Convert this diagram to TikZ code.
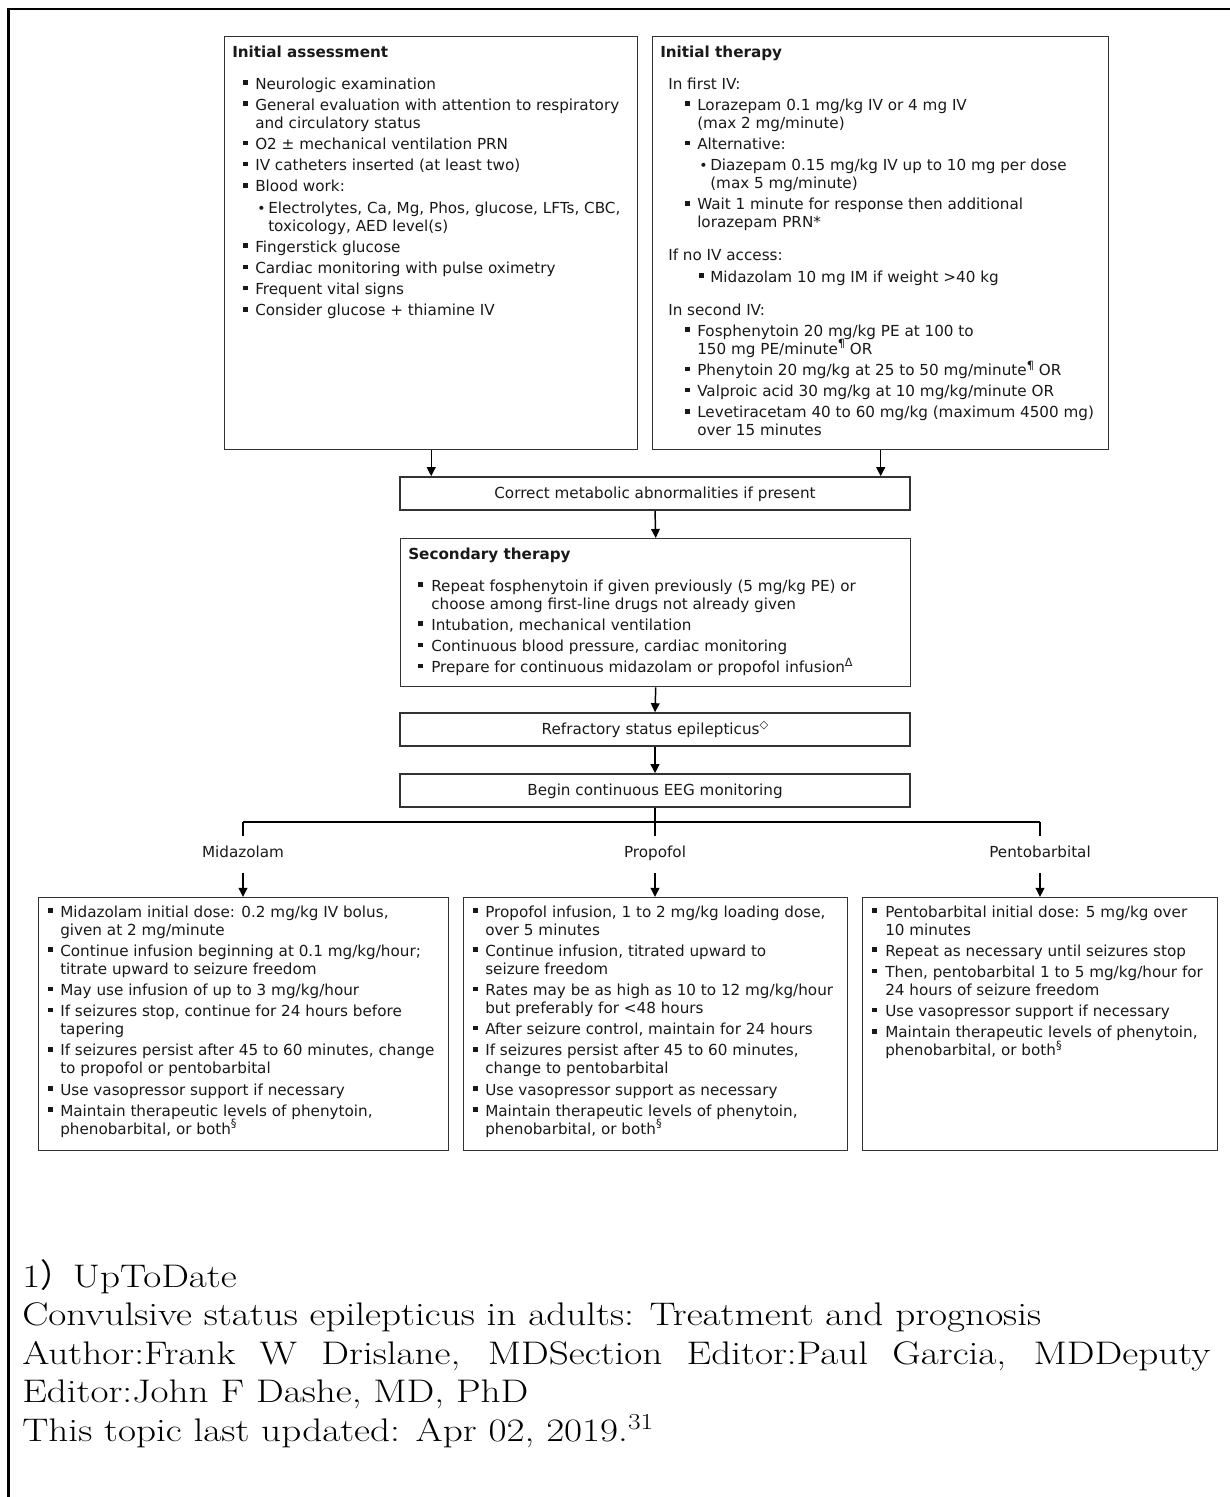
\documentclass[tikz,border=0pt]{standalone}
\usepackage{fontspec}
\newfontfamily\dv{DejaVu Sans}
\newfontfamily\cjk{Noto Sans CJK JP}
\newfontfamily\reffont[FakeStretch=1.2]{Latin Modern Roman}
\usetikzlibrary{arrows.meta}
\newdimen\px \px=0.75pt
\newcommand\sqb{\rule[3.2pt]{3.4pt}{3.4pt}}
\newcommand\rdb{{\fontsize{10.5pt}{0pt}\selectfont •}}
\newcommand\spx[1]{\raisebox{0.42em}{\fontsize{8.5pt}{0pt}\selectfont #1}}
\newcommand\itm[4]{{\leftskip=#2\px\noindent\hbox to 0pt{\hskip-\dimexpr#2\px-#1\px\relax#3\hss}#4\par}}
\newcommand\bul[3]{\itm{#1}{#2}{\sqb}{#3}}
\newcommand\ttl[1]{\noindent{\bfseries #1}\par}
\newcommand\plainln[2]{{\leftskip=#1\px\noindent #2\par}}
\newcommand\gap[1]{\vspace{#1\px}}
\newcommand\setup{\dv\fontsize{11.4pt}{13.5pt}\selectfont\setlength\parskip{2.4pt}\rightskip=0pt plus 1fil\parindent=0pt\relax}
\begin{document}
\begin{tikzpicture}[x=0.75pt,y=-0.75pt,
  frm/.style={draw=black!80, line width=1.1pt, inner sep=0pt, anchor=north west},
  sbox/.style={draw=black!80, line width=1.1pt, inner sep=0pt, minimum width=382.5pt, minimum height=24.75pt,
    font=\dv\fontsize{11.4pt}{13.5pt}\selectfont, text=black!90, text height=9.5pt, text depth=2pt},
  tx/.style={anchor=base west, inner sep=0pt, text=black!90},
  lbl/.style={anchor=base, inner sep=0pt, text=black!90, font=\dv\fontsize{11.4pt}{13.5pt}\selectfont},
  arr/.style={-{Triangle[length=6.8pt,width=6.5pt]}, line width=1.1pt, draw=black},
  ln/.style={line width=1.1pt, draw=black}]
\useasboundingbox (0,0) rectangle (1230,1497);
\fill[white] (0,0) rectangle (1230,1497);
% outer frame (top and left)
\draw[line width=1.8pt] (8.5,1497) -- (8.5,9) -- (1230,9);

% boxes
\node[frm, minimum width=309.75pt, minimum height=309.75pt] (ia) at (224,36) {};
\node[frm, minimum width=342pt, minimum height=309.75pt] (it) at (652,36) {};
\node[sbox] (cm) at (655,493.5) {Correct metabolic abnormalities if present};
\node[frm, minimum width=382.5pt, minimum height=111pt] (st) at (400,538) {};
\node[sbox] (rs) at (655,729.5) {Refractory status epilepticus\spx{◇}};
\node[sbox] (eeg) at (655,790.5) {Begin continuous EEG monitoring};
\node[frm, minimum width=307.5pt, minimum height=189.75pt] (mb) at (38,897) {};
\node[frm, minimum width=288pt, minimum height=189.75pt] (pb) at (463,897) {};
\node[frm, minimum width=266.25pt, minimum height=189.75pt] (tb) at (862,897) {};

% box texts
\node[tx] (iat) at (232,57) {\parbox[t]{300pt}{\setup
\ttl{Initial assessment}\gap{10.8}
\bul{11}{23}{Neurologic examination}
\bul{11}{23}{General evaluation with attention to respiratory\\and circulatory status}
\bul{11}{23}{O2 ± mechanical ventilation PRN}
\bul{11}{23}{IV catheters inserted (at least two)}
\bul{11}{23}{Blood work:}
\itm{25}{36}{\rdb}{Electrolytes, Ca, Mg, Phos, glucose, LFTs, CBC,\\toxicology, AED level(s)}
\bul{11}{23}{Fingerstick glucose}
\bul{11}{23}{Cardiac monitoring with pulse oximetry}
\bul{11}{23}{Frequent vital signs}
\bul{11}{23}{Consider glucose + thiamine IV}}};

\node[tx] (itt) at (660,57) {\parbox[t]{335pt}{\setup
\ttl{Initial therapy}\gap{10.8}
\plainln{8}{In first IV:}
\bul{25}{37}{Lorazepam 0.1 mg/kg IV or 4 mg IV\\(max 2 mg/minute)}
\bul{25}{37}{Alternative:}
\itm{39}{50}{\rdb}{Diazepam 0.15 mg/kg IV up to 10 mg per dose\\(max 5 mg/minute)}
\bul{25}{37}{Wait 1 minute for response then additional\\lorazepam PRN*}
\gap{11.8}
\plainln{8}{If no IV access:}
\bul{39}{50}{Midazolam 10 mg IM if weight >40 kg}
\gap{11.8}
\plainln{8}{In second IV:}
\bul{25}{37}{Fosphenytoin 20 mg/kg PE at 100 to\\150 mg PE/minute\spx{¶} OR}
\bul{25}{37}{Phenytoin 20 mg/kg at 25 to 50 mg/minute\spx{¶} OR}
\bul{25}{37}{Valproic acid 30 mg/kg at 10 mg/kg/minute OR}
\bul{25}{37}{Levetiracetam 40 to 60 mg/kg (maximum 4500 mg)\\over 15 minutes}}};

\node[tx] (stt) at (408,559) {\parbox[t]{375pt}{\setup
\ttl{Secondary therapy}\gap{10.8}
\bul{10}{23}{Repeat fosphenytoin if given previously (5 mg/kg PE) or\\choose among first-line drugs not already given}
\bul{10}{23}{Intubation, mechanical ventilation}
\bul{10}{23}{Continuous blood pressure, cardiac monitoring}
\bul{10}{23}{Prepare for continuous midazolam or propofol infusion\spx{Δ}}}};

\node[tx] (mbt) at (38,917) {\parbox[t]{305pt}{\setup
\bul{10}{22}{Midazolam initial dose: 0.2 mg/kg IV bolus,\\given at 2 mg/minute}
\bul{10}{22}{Continue infusion beginning at 0.1 mg/kg/hour;\\titrate upward to seizure freedom}
\bul{10}{22}{May use infusion of up to 3 mg/kg/hour}
\bul{10}{22}{If seizures stop, continue for 24 hours before\\tapering}
\bul{10}{22}{If seizures persist after 45 to 60 minutes, change\\to propofol or pentobarbital}
\bul{10}{22}{Use vasopressor support if necessary}
\bul{10}{22}{Maintain therapeutic levels of phenytoin,\\phenobarbital, or both\spx{§}}}};

\node[tx] (pbt) at (463,917) {\parbox[t]{285pt}{\setup
\bul{10}{22}{Propofol infusion, 1 to 2 mg/kg loading dose,\\over 5 minutes}
\bul{10}{22}{Continue infusion, titrated upward to\\seizure freedom}
\bul{10}{22}{Rates may be as high as 10 to 12 mg/kg/hour\\but preferably for <48 hours}
\bul{10}{22}{After seizure control, maintain for 24 hours}
\bul{10}{22}{If seizures persist after 45 to 60 minutes,\\change to pentobarbital}
\bul{10}{22}{Use vasopressor support as necessary}
\bul{10}{22}{Maintain therapeutic levels of phenytoin,\\phenobarbital, or both\spx{§}}}};

\node[tx] (tbt) at (862,917) {\parbox[t]{265pt}{\setup
\bul{10}{23}{Pentobarbital initial dose: 5 mg/kg over\\10 minutes}
\bul{10}{23}{Repeat as necessary until seizures stop}
\bul{10}{23}{Then, pentobarbital 1 to 5 mg/kg/hour for\\24 hours of seizure freedom}
\bul{10}{23}{Use vasopressor support if necessary}
\bul{10}{23}{Maintain therapeutic levels of phenytoin,\\phenobarbital, or both\spx{§}}}};

% connectors
\draw[arr] (ia.south) -- (ia.south |- cm.north);
\draw[arr] (it.south) -- (it.south |- cm.north);
\draw[arr] (cm.south) -- (st.north);
\draw[arr] (st.south) -- (rs.north);
\draw[arr] (rs.south) -- (eeg.north);

\coordinate (bj) at (655,822);
\coordinate (bl) at (243,822);
\coordinate (br) at (1040,822);
\coordinate (tl) at (243,836);
\coordinate (tm) at (655,836);
\coordinate (tr) at (1040,836);
\draw[ln] (eeg.south) -- (tm);
\draw[ln] (bl) -- (br);
\draw[ln] (bl) -- (tl);
\draw[ln] (br) -- (tr);

\node[lbl] (lm) at (243,857) {Midazolam};
\node[lbl] (lp) at (655,857) {Propofol};
\node[lbl] (lt) at (1040,857) {Pentobarbital};
\coordinate (ca1) at (243,873);
\coordinate (ca2) at (655,873);
\coordinate (ca3) at (1040,873);
\draw[arr] (ca1) -- (ca1 |- mb.north);
\draw[arr] (ca2) -- (ca2 |- pb.north);
\draw[arr] (ca3) -- (ca3 |- tb.north);

% reference text
\node[tx, font=\reffont\fontsize{24.5pt}{28.9pt}\selectfont, text=black] (ref) at (22,1287) {\parbox[t]{891pt}{\parindent=0pt
1{\cjk ）}UpToDate\\
Convulsive status epilepticus in adults: Treatment and prognosis\\
Author:Frank W Drislane, MDSection Editor:Paul Garcia, MDDeputy\linebreak
Editor:John F Dashe, MD, PhD\\
This topic last updated: Apr 02, 2019.\textsuperscript{31}}};
\end{tikzpicture}
\end{document}
